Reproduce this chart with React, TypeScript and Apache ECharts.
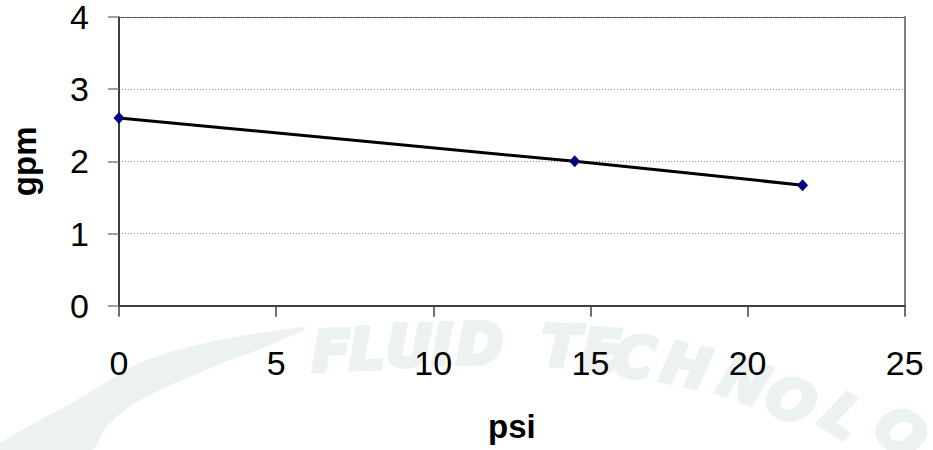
import React, { useEffect, useRef } from "react";
import * as echarts from "echarts";

const psi = [0, 14.5, 21.75];
const gpm = [2.6, 2.0, 1.67];
const xTicks = { min: 0, max: 25, interval: 5 };
const yTicks = { min: 0, max: 4, interval: 1 };
const watermarkLetters = ["F", "L", "U", "I", "D", "T", "E", "C", "H", "N", "O", "L", "O"];

// watermark decoration layout (not data)
const wmLayout: [number, number, number][] = [
  [331, 351, 2],
  [367, 349, 1],
  [409, 346, 0],
  [442, 345, 0],
  [480, 344, 0],
  [561, 346, -2],
  [601, 350, -4],
  [634, 357, -7],
  [686, 366, -13],
  [744, 381, -20],
  [791, 400, -27],
  [843, 416, -33],
  [901, 432, -40],
];

export default function App() {
  const ref = useRef<HTMLDivElement>(null);
  useEffect(() => {
    if (!ref.current) return;
    const chart = echarts.init(ref.current, null, { renderer: "svg" });
    const font = "Liberation Sans, Arial, sans-serif";
    const data = psi.map((x, i) => [x, gpm[i]]);
    const wmColor = "#ECF2F2";
    const graphic: any[] = [
      {
        type: "polygon",
        z: -100,
        silent: true,
        shape: {
          smooth: 0.35,
          points: [
            [-5, 447],
            [40, 420],
            [70, 404],
            [105, 383],
            [140, 363],
            [185, 348],
            [235, 337],
            [272, 331],
            [306, 328],
            [268, 346],
            [225, 362],
            [190, 377],
            [160, 390],
            [132, 405],
            [108, 425],
            [88, 452],
            [-5, 455],
          ],
        },
        style: { fill: wmColor },
      },
      ...watermarkLetters.map((ch, i) => ({
        type: "text",
        z: -100,
        silent: true,
        x: wmLayout[i][0],
        y: wmLayout[i][1],
        rotation: (wmLayout[i][2] * Math.PI) / 180,
        style: {
          text: ch,
          fill: wmColor,
          stroke: wmColor,
          lineWidth: 4,
          font: "italic bold 57px 'DejaVu Sans', sans-serif",
          align: "center",
          verticalAlign: "middle",
        },
      })),
    ];
    chart.setOption({
      animation: false,
      backgroundColor: "#ffffff",
      textStyle: { fontFamily: font },
      graphic,
      grid: { left: 113.7, top: 15.7, right: 28.3, bottom: 144.3, containLabel: false },
      xAxis: [
        {
          type: "value",
          position: "bottom",
          min: xTicks.min,
          max: xTicks.max,
          interval: xTicks.interval,
          name: "psi",
          nameLocation: "middle",
          nameGap: 104,
          nameTextStyle: { fontSize: 33, fontWeight: "bold", color: "#000", fontFamily: font },
          axisLine: { show: true, onZero: false, lineStyle: { color: "#404040", width: 2 } },
          axisTick: { show: true, inside: false, length: 11, lineStyle: { color: "#404040", width: 1.5 } },
          axisLabel: { fontSize: 34, margin: 40, color: "#000", fontFamily: font },
          splitLine: { show: false },
        },
        {
          type: "value",
          position: "top",
          min: xTicks.min,
          max: xTicks.max,
          interval: xTicks.interval,
          axisLine: { show: true, onZero: false, lineStyle: { color: "#404040", width: 1, type: [1, 1] } },
          axisTick: { show: false },
          axisLabel: { show: false },
          splitLine: { show: false },
        },
      ],
      yAxis: [
        {
          type: "value",
          position: "left",
          min: yTicks.min,
          max: yTicks.max,
          interval: yTicks.interval,
          name: "gpm",
          nameLocation: "middle",
          nameGap: 78,
          nameRotate: 90,
          nameTextStyle: { fontSize: 33, fontWeight: "bold", color: "#000", fontFamily: font },
          axisLine: { show: true, onZero: false, lineStyle: { color: "#000", width: 1.5 } },
          axisTick: { show: true, inside: false, length: 11, lineStyle: { color: "#808080", width: 1.5 } },
          axisLabel: { fontSize: 34, margin: 30, color: "#000", fontFamily: font },
          splitLine: { show: true, lineStyle: { color: "#8c8c8c", width: 1, type: [1, 2] } },
        },
        {
          type: "value",
          position: "right",
          min: yTicks.min,
          max: yTicks.max,
          interval: yTicks.interval,
          axisLine: { show: true, onZero: false, lineStyle: { color: "#808080", width: 2 } },
          axisTick: { show: false },
          axisLabel: { show: false },
          splitLine: { show: false },
        },
      ],
      series: [
        {
          type: "line",
          xAxisIndex: 0,
          yAxisIndex: 0,
          data,
          smooth: 0.3,
          symbol: "diamond",
          symbolSize: [11, 12],
          lineStyle: { color: "#000000", width: 3 },
          itemStyle: { color: "#000080" },
          z: 5,
        },
      ],
    });
    return () => chart.dispose();
  }, []);
  return (
    <div
      ref={ref}
      style={{ position: "fixed", left: 0, top: 0, width: 933, height: 450, background: "#fff" }}
    />
  );
}
